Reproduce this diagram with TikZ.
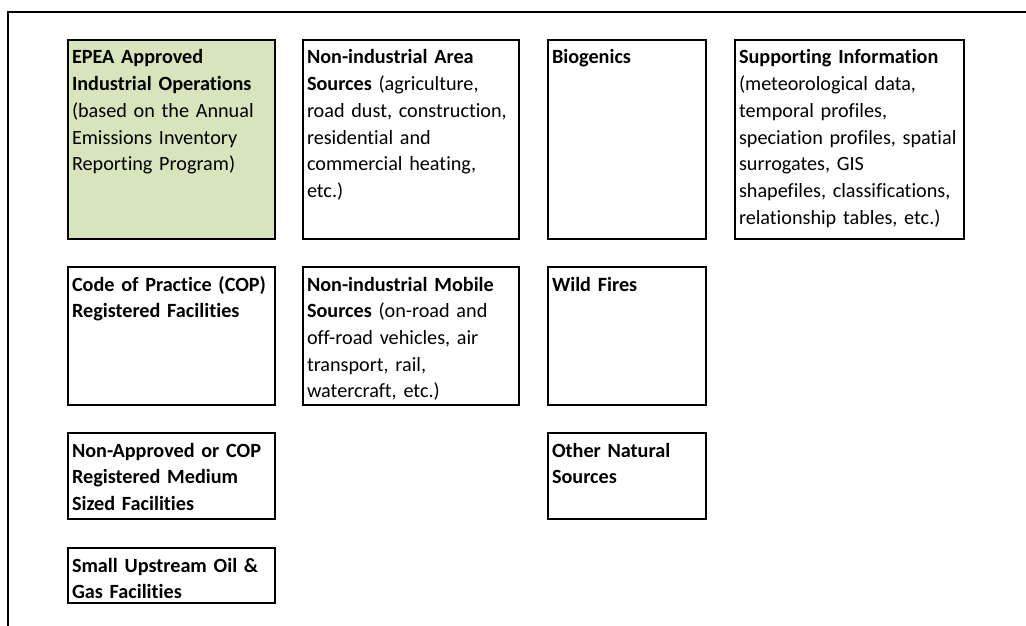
\documentclass[tikz,border=0pt]{standalone}
\usepackage{fontspec}
\setmainfont{Carlito}[Ligatures=NoCommon]
\usepackage{xcolor}
\usepackage{tikz}
\usetikzlibrary{positioning}

\definecolor{epeagreen}{HTML}{D8E4BC}
\hyphenpenalty=10000

\begin{document}
\begin{tikzpicture}[
    x=1pt, y=1pt,
    srcbox/.style 2 args={draw, rectangle, line width=1.4pt, outer sep=0pt, anchor=north west, align=left, text width=#1, inner xsep=4pt, inner ysep=0pt, text height=24pt, text depth=#2, font=\fontsize{20.2}{26.7}\selectfont},
    frame/.style={line width=1.5pt}
]
\useasboundingbox (0,0) rectangle (1026,-626);

% Outer frame
\draw [frame] (8,-626) -- (8,-12) -- (1026,-12);

% Industrial sources
\node (epea) [srcbox={199pt}{175pt}, fill=epeagreen] at (68,-40) {\textbf{EPEA Approved}\\\textbf{Industrial Operations}\\(based on the Annual\\Emissions Inventory\\Reporting Program)};
\node (cop) [srcbox={199pt}{114pt}, below=28pt of epea.south west, anchor=north west] {\textbf{Code of Practice (COP)}\\\textbf{Registered Facilities}};
\node (medium) [srcbox={199pt}{62pt}, below=28pt of cop.south west, anchor=north west] {\textbf{Non-Approved or COP}\\\textbf{Registered Medium}\\\textbf{Sized Facilities}};
\node (upstream) [srcbox={199pt}{31pt}, below=29pt of medium.south west, anchor=north west] {\textbf{Small Upstream Oil \&}\\\textbf{Gas Facilities}};

% Non-industrial sources
\node (area) [srcbox={208pt}{175pt}, right=28pt of epea.north east, anchor=north west] {\textbf{Non-industrial Area}\\\textbf{Sources} (agriculture,\\road dust, construction,\\residential and\\commercial heating,\\etc.)};
\node (mobile) [srcbox={208pt}{114pt}, right=28pt of cop.north east, anchor=north west] {\textbf{Non-industrial Mobile}\\\textbf{Sources} (on-road and\\off-road vehicles, air\\transport, rail,\\watercraft, etc.)};

% Natural sources
\node (biogenics) [srcbox={150pt}{175pt}, right=29pt of area.north east, anchor=north west] {\textbf{Biogenics}};
\node (fires) [srcbox={150pt}{114pt}, right=29pt of mobile.north east, anchor=north west] {\textbf{Wild Fires}};
\node (natural) [srcbox={150pt}{62pt}, below=28pt of fires.south west, anchor=north west] {\textbf{Other Natural}\\\textbf{Sources}};

% Supporting information
\node (support) [srcbox={221pt}{175pt}, right=29pt of biogenics.north east, anchor=north west] {\textbf{Supporting Information}\\(meteorological data,\\temporal profiles,\\speciation profiles, spatial\\surrogates, GIS\\shapefiles, classifications,\\relationship tables, etc.)};

\end{tikzpicture}
\end{document}
